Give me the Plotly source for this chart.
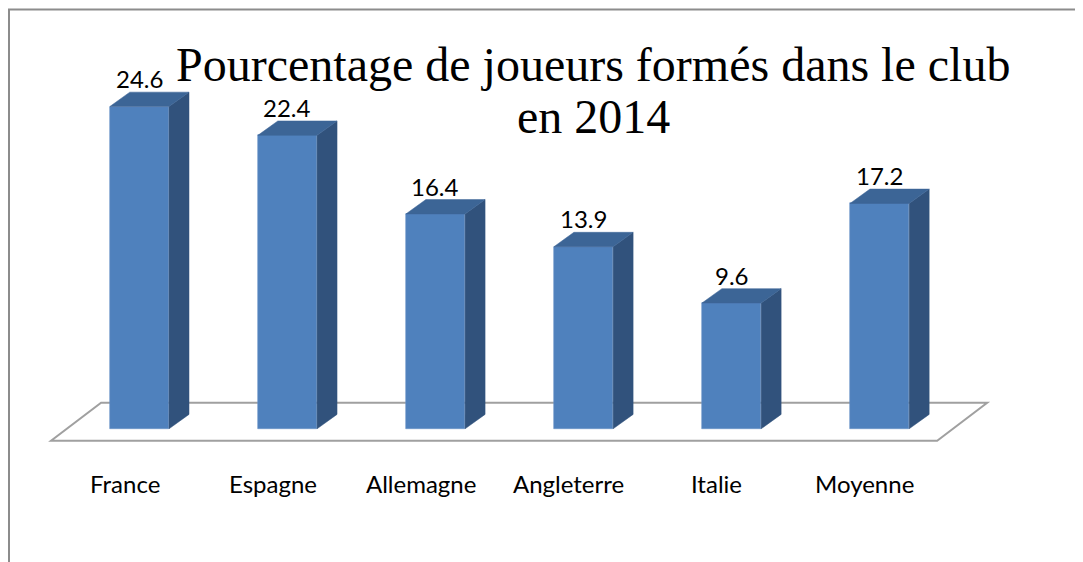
import plotly.graph_objects as go

categories = ["France", "Espagne", "Allemagne", "Angleterre", "Italie", "Moyenne"]
values = [24.6, 22.4, 16.4, 13.9, 9.6, 17.2]
value_labels = ["24.6", "22.4", "16.4", "13.9", "9.6", "17.2"]
title_lines = ["Pourcentage de joueurs formés dans le club", "en 2014"]

W, H = 1083, 562
OFF = 8  # page body margin
# plot area in page pixels: x 21..998, y 62..455
ML, MR, MT, MB = 21 - OFF, W - (998 - OFF), 62 - OFF, H - (455 - OFF)
XR = [-0.8, 5.8]
YR = [-2, 28]

bar_w = 0.4
dx = 0.135   # depth offset in category units
dy = 1.10    # depth offset in value units

FRONT = "#4F81BD"
SIDE = "#31527C"
TOP = "#3C6596"

xs = list(range(len(categories)))
fig = go.Figure()

# side and top faces
for i, v in zip(xs, values):
    xr = i + bar_w / 2
    xl = i - bar_w / 2
    fig.add_trace(go.Scatter(
        x=[xr, xr + dx, xr + dx, xr, xr], y=[0, dy, v + dy, v, 0],
        fill="toself", fillcolor=SIDE, mode="lines", line=dict(width=0.5, color=SIDE),
        hoverinfo="skip", showlegend=False))
    fig.add_trace(go.Scatter(
        x=[xl, xr, xr + dx, xl + dx, xl], y=[v, v, v + dy, v + dy, v],
        fill="toself", fillcolor=TOP, mode="lines", line=dict(width=0.5, color=TOP),
        hoverinfo="skip", showlegend=False))

fig.add_trace(go.Bar(
    x=xs, y=values, width=bar_w, marker=dict(color=FRONT, line=dict(width=0.6, color="#6A93C8")),
    hoverinfo="x+y", showlegend=False))

pw = W - ML - MR
ph = H - MT - MB
def px2paper_x(p):
    return (p - OFF - ML) / pw
def px2paper_y(p):
    return (H - MB - (p - OFF)) / ph

# data labels
for i, v, t in zip(xs, values, value_labels):
    fig.add_annotation(x=i, y=v + dy, text=t, showarrow=False, xref="x", yref="y",
                       yanchor="bottom", yshift=-3, font=dict(family="Lato", size=24, color="black"))

# category labels (centred on the floor's front edge projection)
for i, c in zip(xs, categories):
    fig.add_annotation(x=i - 0.1, y=px2paper_y(483), text=c, showarrow=False, xref="x", yref="paper",
                       yanchor="middle", font=dict(family="Lato", size=24, color="black"))

# floor
n = len(categories)
fy_front, fy_back = -0.916, 1.985
floor = [(0 - 0.597, fy_front), (n - 1 + 0.389, fy_front), (n - 1 + 0.727, fy_back), (0 - 0.259, fy_back)]
path = "M " + " L ".join(f"{x},{y}" for x, y in floor) + " Z"
fig.add_shape(type="path", path=path, xref="x", yref="y", layer="below",
              line=dict(color="#A0A0A0", width=2), fillcolor="white")

# border
fig.add_shape(type="rect", xref="paper", yref="paper",
              x0=px2paper_x(9), x1=px2paper_x(1100), y0=px2paper_y(580), y1=px2paper_y(9.5),
              line=dict(color="#8C8C8C", width=2), fillcolor="rgba(0,0,0,0)", layer="below")

# title
for line, cy in zip(title_lines, [64.5, 116.5]):
    fig.add_annotation(x=px2paper_x(593), y=px2paper_y(cy), xref="paper", yref="paper",
                       text=line, showarrow=False, xanchor="center", yanchor="middle",
                       font=dict(family="Liberation Serif", size=48, color="black"))

fig.update_layout(
    width=W, height=H, margin=dict(l=ML, r=MR, t=MT, b=MB),
    paper_bgcolor="white", plot_bgcolor="rgba(0,0,0,0)",
    xaxis=dict(range=XR, visible=False, fixedrange=True),
    yaxis=dict(range=YR, visible=False, fixedrange=True),
    bargap=0, showlegend=False,
)

fig.write_html("out.html")
